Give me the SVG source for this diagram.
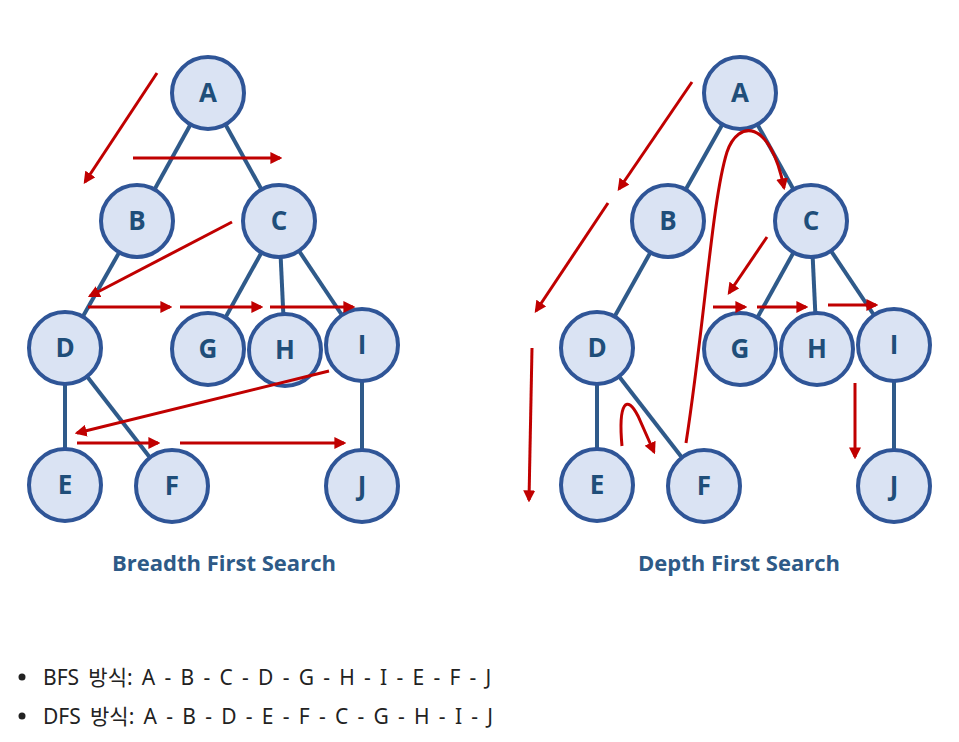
<svg xmlns="http://www.w3.org/2000/svg" width="959" height="742" viewBox="0 0 959 742">
<style>
.edge{stroke:#2f5a8a;stroke-width:4;fill:none}
.node circle{fill:#dae3f3;stroke:#2f5597;stroke-width:4}
.node text{font-family:"Open Sans","Liberation Sans",sans-serif;font-weight:bold;font-size:26px;fill:#1f4e79;text-anchor:middle}
.arr{stroke:#c00000;stroke-width:3;fill:none;marker-end:url(#ah)}
.title{font-family:"Open Sans","Liberation Sans",sans-serif;font-weight:bold;font-size:22px;fill:#2e5a87;text-anchor:middle}
.list{font-family:"Noto Sans","Noto Sans CJK KR",sans-serif;font-size:21px;word-spacing:3.8px;fill:#222}
</style>
<defs>
<marker id="ah" viewBox="0 0 10 10" refX="8" refY="5" markerWidth="4" markerHeight="4" orient="auto" markerUnits="strokeWidth">
<path d="M0,0 L10,5 L0,10 z" fill="#c00000"/>
</marker>
</defs>
<rect width="959" height="742" fill="#fff"/>
<g id="edges">
<line class="edge" x1="208" y1="93" x2="137" y2="221"/>
<line class="edge" x1="208" y1="93" x2="279" y2="221"/>
<line class="edge" x1="137" y1="221" x2="65" y2="348"/>
<line class="edge" x1="279" y1="221" x2="208" y2="349"/>
<line class="edge" x1="279" y1="221" x2="285" y2="350"/>
<line class="edge" x1="279" y1="221" x2="362" y2="345"/>
<line class="edge" x1="65" y1="348" x2="65" y2="485"/>
<line class="edge" x1="65" y1="348" x2="172" y2="486"/>
<line class="edge" x1="362" y1="345" x2="362" y2="486"/>
<line class="edge" x1="740" y1="93" x2="668" y2="221"/>
<line class="edge" x1="740" y1="93" x2="811" y2="221"/>
<line class="edge" x1="668" y1="221" x2="597" y2="348"/>
<line class="edge" x1="811" y1="221" x2="740" y2="349"/>
<line class="edge" x1="811" y1="221" x2="817" y2="349"/>
<line class="edge" x1="811" y1="221" x2="894" y2="345"/>
<line class="edge" x1="597" y1="348" x2="597" y2="485"/>
<line class="edge" x1="597" y1="348" x2="704" y2="486"/>
<line class="edge" x1="894" y1="345" x2="894" y2="486"/>
</g>
<g id="bfs-A" class="node"><circle cx="208" cy="93" r="36"/><text x="208" y="102">A</text></g>
<g id="bfs-B" class="node"><circle cx="137" cy="221" r="36"/><text x="137" y="230">B</text></g>
<g id="bfs-C" class="node"><circle cx="279" cy="221" r="36"/><text x="279" y="230">C</text></g>
<g id="bfs-D" class="node"><circle cx="65" cy="348" r="36"/><text x="65" y="357">D</text></g>
<g id="bfs-G" class="node"><circle cx="208" cy="349" r="36"/><text x="208" y="358">G</text></g>
<g id="bfs-H" class="node"><circle cx="285" cy="350" r="36"/><text x="285" y="359">H</text></g>
<g id="bfs-I" class="node"><circle cx="362" cy="345" r="36"/><text x="362" y="354">I</text></g>
<g id="bfs-E" class="node"><circle cx="65" cy="485" r="36"/><text x="65" y="494">E</text></g>
<g id="bfs-F" class="node"><circle cx="172" cy="486" r="36"/><text x="172" y="495">F</text></g>
<g id="bfs-J" class="node"><circle cx="362" cy="486" r="36"/><text x="362" y="495">J</text></g>
<g id="dfs-A" class="node"><circle cx="740" cy="93" r="36"/><text x="740" y="102">A</text></g>
<g id="dfs-B" class="node"><circle cx="668" cy="221" r="36"/><text x="668" y="230">B</text></g>
<g id="dfs-C" class="node"><circle cx="811" cy="221" r="36"/><text x="811" y="230">C</text></g>
<g id="dfs-D" class="node"><circle cx="597" cy="348" r="36"/><text x="597" y="357">D</text></g>
<g id="dfs-G" class="node"><circle cx="740" cy="349" r="36"/><text x="740" y="358">G</text></g>
<g id="dfs-H" class="node"><circle cx="817" cy="349" r="36"/><text x="817" y="358">H</text></g>
<g id="dfs-I" class="node"><circle cx="894" cy="345" r="36"/><text x="894" y="354">I</text></g>
<g id="dfs-E" class="node"><circle cx="597" cy="485" r="36"/><text x="597" y="494">E</text></g>
<g id="dfs-F" class="node"><circle cx="704" cy="486" r="36"/><text x="704" y="495">F</text></g>
<g id="dfs-J" class="node"><circle cx="894" cy="486" r="36"/><text x="894" y="495">J</text></g>
<g id="traversal">
<line class="arr" x1="157" y1="73" x2="85" y2="182"/>
<line class="arr" x1="133" y1="158" x2="280" y2="158"/>
<line class="arr" x1="232" y1="222" x2="90" y2="296"/>
<line class="arr" x1="88" y1="307" x2="170" y2="307"/>
<line class="arr" x1="180" y1="307" x2="261" y2="307"/>
<line class="arr" x1="270" y1="307" x2="353" y2="307"/>
<line class="arr" x1="329" y1="371" x2="77" y2="433"/>
<line class="arr" x1="77" y1="443" x2="158" y2="443"/>
<line class="arr" x1="180" y1="443" x2="344" y2="443"/>
<line class="arr" x1="692" y1="82" x2="619" y2="189"/>
<line class="arr" x1="608" y1="203" x2="536" y2="311"/>
<line class="arr" x1="532" y1="348" x2="529" y2="500"/>
<path class="arr" d="M622,446 C618,402 627,394 638,416 L654,452"/>
<path class="arr" d="M686,443 C705,320 712,200 727,152 C738,120 770,118 784,188"/>
<line class="arr" x1="767" y1="237" x2="729" y2="293"/>
<line class="arr" x1="713" y1="307" x2="745" y2="307"/>
<line class="arr" x1="757" y1="307" x2="806" y2="307"/>
<line class="arr" x1="828" y1="305" x2="876" y2="305"/>
<line class="arr" x1="855" y1="383" x2="855" y2="457"/>
</g>
<text class="title" x="224" y="571">Breadth First Search</text>
<text class="title" x="739" y="571">Depth First Search</text>
<circle cx="22" cy="677" r="3.5" fill="#222"/>
<circle cx="22" cy="716" r="3.5" fill="#222"/>
<text class="list" x="43" y="685">BFS 방식: A - B - C - D - G - H - I - E - F - J</text>
<text class="list" x="43" y="724">DFS 방식: A - B - D - E - F - C - G - H - I - J</text>
</svg>
